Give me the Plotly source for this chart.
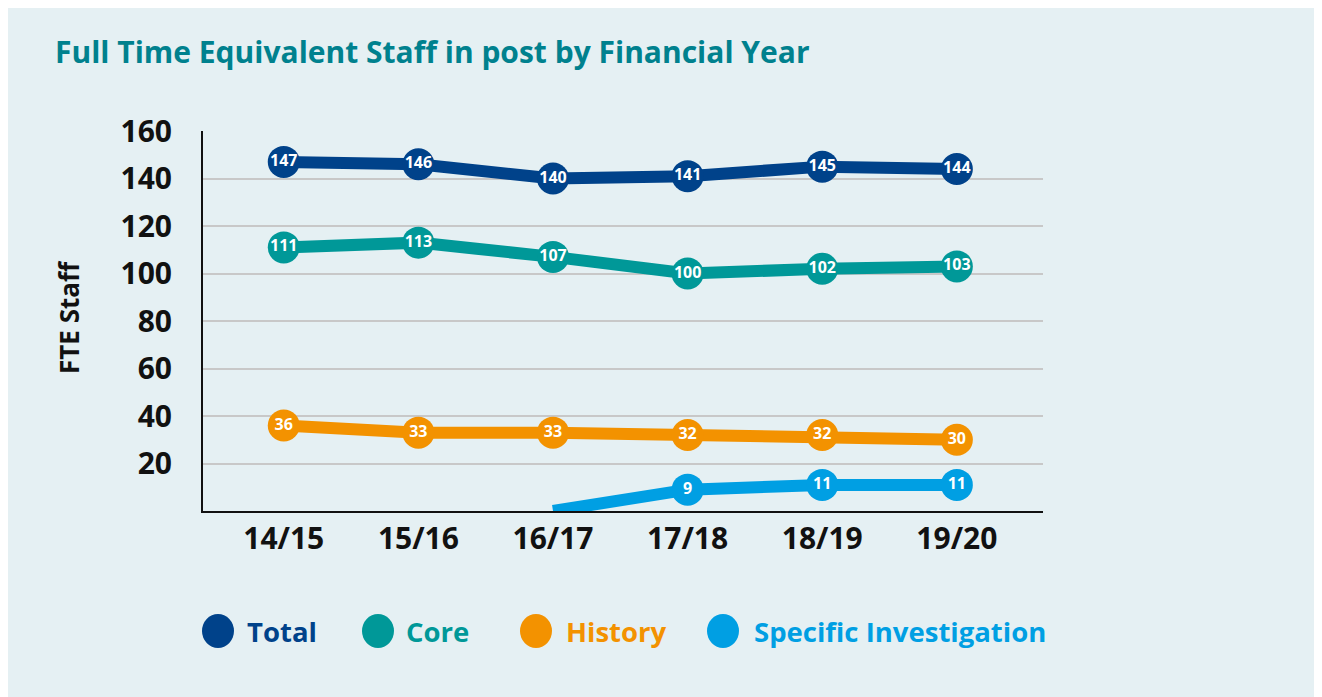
import plotly.graph_objects as go

years = ["14/15", "15/16", "16/17", "17/18", "18/19", "19/20"]
total = [147, 146, 140, 141, 145, 144]
core = [111, 113, 107, 100, 102, 103]
history = [36, 33, 33, 32, 32, 30]
specific = [None, None, 0, 9, 11, 11]
y_ticks = [20, 40, 60, 80, 100, 120, 140, 160]

names = ["Total", "Core", "History", "Specific Investigation"]
colors = ["#00428a", "#009898", "#f39200", "#009fe3"]
series = [total, core, history, specific]

# page has an 8px body margin: figure covers page pixels 8..1322 x 8..697
OFF = 8
W, H = 1322 - OFF, 697 - OFF
L, R, T, B = 203 - OFF, 1043 - OFF, 131 - OFF, 511 - OFF
FONT = "Open Sans, Noto Sans, sans-serif"


def px(x):
    return (x - OFF - L) / (R - L)


def py(y):
    return (B - (y - OFF)) / (B - T)


fig = go.Figure()
for name, col, vals in zip(names, colors, series):
    sizes = [0 if (v is not None and v == 0) else 32 for v in vals]
    texts = ["" if (v is None or v == 0) else str(v) for v in vals]
    fig.add_trace(go.Scatter(
        x=years, y=vals, name=name, mode="lines+markers+text",
        line=dict(color=col, width=12),
        marker=dict(color=col, size=sizes, opacity=1, line=dict(width=0)),
        text=texts, textposition="middle center",
        textfont=dict(color="white", size=16, family=FONT, weight="bold"),
        cliponaxis=True, showlegend=False, connectgaps=False,
    ))

shapes = []
annotations = [
    dict(text="FTE Staff", xref="paper", yref="paper", x=px(69), y=py(317),
         textangle=-90, showarrow=False, xanchor="center", yanchor="middle",
         font=dict(size=26, color="#111111", family=FONT, weight="bold")),
]
leg_circle_x = [218, 378, 536, 723]
leg_text_x = [245, 404, 564, 752]
for cx, tx, name, col in zip(leg_circle_x, leg_text_x, names, colors):
    shapes.append(dict(type="circle", xref="paper", yref="paper",
                       x0=px(cx - 16), x1=px(cx + 16), y0=py(648), y1=py(614),
                       fillcolor=col, line=dict(width=0)))
    annotations.append(dict(text=name, xref="paper", yref="paper", x=px(tx), y=py(631),
                            showarrow=False, xanchor="left", yanchor="middle",
                            font=dict(size=27.5, color=col, family=FONT, weight="bold")))

fig.update_layout(
    width=W, height=H,
    margin=dict(l=L, r=W - R, t=T, b=H - B),
    paper_bgcolor="#e5f0f3", plot_bgcolor="rgba(0,0,0,0)",
    title=dict(text="Full Time Equivalent Staff in post by Financial Year",
               x=(55 - OFF) / W, y=1 - (52 - OFF) / H, xanchor="left", yanchor="middle",
               font=dict(size=30, color="#00818e", family=FONT, weight="bold")),
    xaxis=dict(range=[-0.6, 5.64], showgrid=False, showline=True, linecolor="#111111",
               linewidth=2, ticks="", ticklabelstandoff=0,
               tickfont=dict(size=30, color="#111111", family=FONT, weight="bold"),
               zeroline=False, fixedrange=True),
    yaxis=dict(range=[0, 160], tickvals=y_ticks, showgrid=True, gridcolor="#c8c8c8",
               gridwidth=2, showline=True, linecolor="#111111", linewidth=2, ticks="",
               ticklabelstandoff=23, zeroline=False,
               tickfont=dict(size=30, color="#111111", family=FONT, weight="bold")),
    shapes=shapes, annotations=annotations,
)
fig.write_html("out.html")
